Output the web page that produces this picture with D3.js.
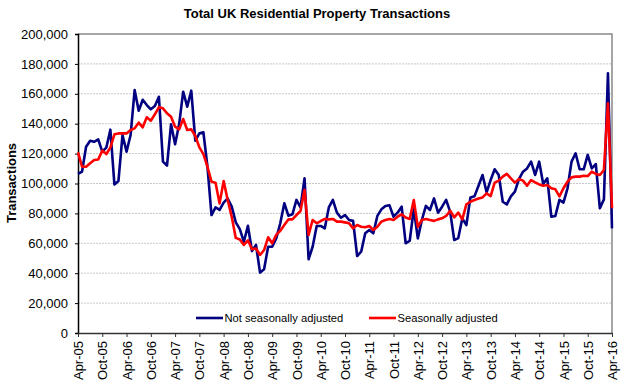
<!DOCTYPE html>
<html>
<head>
<meta charset="utf-8">
<script src="https://cdn.jsdelivr.net/npm/d3@7/dist/d3.min.js"></script>
<style>
  html, body { margin: 0; padding: 0; background: #fff; }
  svg { display: block; font-family: "Liberation Sans", Arial, sans-serif; }
</style>
</head>
<body>
<svg id="chart" width="630" height="392"></svg>
<script>
// Monthly values (thousands), Apr-05 .. Apr-16
const notSeasonallyAdjusted = [
  106.4,108,124.6,128.6,127.9,129.5,121.3,124,136,99.4,101.7,132.4,
  121.3,132.4,162.5,148.7,156,152.5,149.6,151.8,158,114.6,112,139.6,
  126.2,139.6,161.4,151.4,162.1,128.6,133.6,134.2,111.2,78.9,84,82.3,
  87.2,90,84.5,74,69.5,61,71.7,54.8,58.9,40.4,42.6,57.7,
  57.7,63.3,73.4,86.8,78.5,79.4,89,84,103.5,49.3,57.7,71.6,
  71.6,70,84,89,80.5,77.1,78.9,75.6,75,51.5,54.4,66.7,
  68.9,66.7,78.3,82.7,84.9,85.4,77.8,80.5,84.5,60,61.7,83,
  63.3,75.6,85,82.3,90,80.5,84.5,89,81,62.2,63.5,76.7,
  72.2,90.7,91.4,98.5,105.7,94.1,102.3,109.5,105.7,87.8,86,91.4,
  94.5,103,107.9,110.1,114.6,105.7,114.6,99.7,103.5,77.8,78.3,89,
  87.2,96.8,114.6,120.2,109.5,109.5,119.1,110.1,113,83.4,89.4,173.7,
  70
];
const seasonallyAdjusted = [
  120.8,111.2,111.2,113.5,115.7,116,122,119.7,124,132.9,133.5,133.5,
  133.5,135.8,136.9,140.7,137.6,144.3,142,146.3,151,150.3,147,144.7,
  138,136.2,143.1,135.8,136.2,131.8,124.2,119.7,111.2,101.2,100.5,86.7,
  101.7,89,77.8,63.6,62.5,58.9,62,56,56.5,52.2,55.5,64,
  60,65.6,68.4,72.2,76,76,78.9,81.6,95.7,65.6,75.6,73.4,
  74.9,76.3,76,76.3,74.5,74.5,74,73.4,70,72.2,71.1,70.7,
  71.6,68.9,71.1,74.5,75.6,76.3,75.6,77.8,79.4,77.3,76.3,89,
  71,75.6,76.3,75.6,75,76,76.7,78.3,81.8,77.3,80.5,76,
  86,87.8,89,90,90.7,93.4,91.6,100.6,101.9,104.6,106.4,103.5,
  100.6,103,101.9,98.5,102.3,100.8,99.4,98.5,99,96.8,96.1,91.4,
  96.8,101.2,104.1,104.6,104.6,105.2,105,107.9,106.4,105.7,109,153.6,
  83.4
];
const tickLabels = ["Apr-05","Oct-05","Apr-06","Oct-06","Apr-07","Oct-07","Apr-08","Oct-08",
  "Apr-09","Oct-09","Apr-10","Oct-10","Apr-11","Oct-11","Apr-12","Oct-12","Apr-13","Oct-13",
  "Apr-14","Oct-14","Apr-15","Oct-15","Apr-16"];
const yTicks = [0,20000,40000,60000,80000,100000,120000,140000,160000,180000,200000];
const seriesNames = ["Not seasonally adjusted","Seasonally adjusted"];

const svg = d3.select("#chart");
const L = 78, R = 612, T = 34, B = 333;
const n = notSeasonallyAdjusted.length;
const x = d3.scaleLinear().domain([0, n - 1]).range([L, R]);
const y = d3.scaleLinear().domain([0, 200000]).range([B, T]);

// gridlines
svg.append("g").selectAll("line").data(yTicks.slice(1, -1)).join("line")
  .attr("x1", L).attr("x2", R).attr("y1", d => y(d)).attr("y2", d => y(d))
  .attr("stroke", "#c8c8c8").attr("stroke-width", 1).attr("stroke-dasharray", "2,1");

// plot border top/right
svg.append("path").attr("d", `M${L},${T}H${R}V${B}`).attr("fill", "none")
  .attr("stroke", "#888").attr("stroke-width", 1.5);

// title
svg.append("text").attr("x", 317).attr("y", 18).attr("text-anchor", "middle")
  .attr("font-size", 13).attr("font-weight", "bold").text("Total UK Residential Property Transactions");

// y axis
const yAxis = svg.append("g").attr("transform", `translate(${L},0)`)
  .call(d3.axisLeft(y).tickValues(yTicks).tickFormat(d3.format(",")).tickSize(3).tickPadding(7));
yAxis.select(".domain").attr("stroke", "#000").attr("stroke-width", 1.5);
yAxis.selectAll(".tick line").attr("stroke", "#000");
yAxis.selectAll("text").attr("font-size", 13).attr("font-family", "Liberation Sans, Arial, sans-serif").attr("fill", "#000");

// x axis
const xTickIdx = tickLabels.map((d, i) => i * 6);
const xAxis = svg.append("g").attr("transform", `translate(0,${B})`)
  .call(d3.axisBottom(x).tickValues(xTickIdx).tickFormat((d, i) => tickLabels[i]).tickSize(4).tickSizeOuter(0));
xAxis.select(".domain").attr("stroke", "#333").attr("stroke-width", 1.5);
xAxis.selectAll(".tick line").attr("stroke", "#333").attr("stroke-width", 1);
xAxis.selectAll("text")
  .attr("font-size", 13).attr("font-family", "Liberation Sans, Arial, sans-serif").attr("fill", "#000")
  .attr("transform", "rotate(-90)")
  .attr("text-anchor", "end")
  .attr("x", -8).attr("y", 0).attr("dy", "0.35em");

// y axis title
svg.append("text").attr("transform", "translate(16,183) rotate(-90)")
  .attr("text-anchor", "middle").attr("font-size", 13).attr("font-weight", "bold").text("Transactions");

// lines
const line = d3.line().x((d, i) => x(i)).y(d => y(d * 1000));
svg.append("path").datum(notSeasonallyAdjusted).attr("d", line)
  .attr("fill", "none").attr("stroke", "#000080").attr("stroke-width", 2.6).attr("stroke-linejoin", "round");
svg.append("path").datum(seasonallyAdjusted).attr("d", line)
  .attr("fill", "none").attr("stroke", "#ff0000").attr("stroke-width", 2.6).attr("stroke-linejoin", "round");

// legend
const legend = [
  {name: seriesNames[0], color: "#000080", x1: 196, x2: 223},
  {name: seriesNames[1], color: "#ff0000", x1: 369, x2: 396}
];
const lg = svg.append("g");
legend.forEach(l => {
  lg.append("line").attr("x1", l.x1).attr("x2", l.x2).attr("y1", 318).attr("y2", 318)
    .attr("stroke", l.color).attr("stroke-width", 2.6);
  lg.append("text").attr("x", l.x2 + 1.5).attr("y", 318).attr("dy", "0.35em")
    .attr("font-size", 11.2).text(l.name);
});
</script>
</body>
</html>
